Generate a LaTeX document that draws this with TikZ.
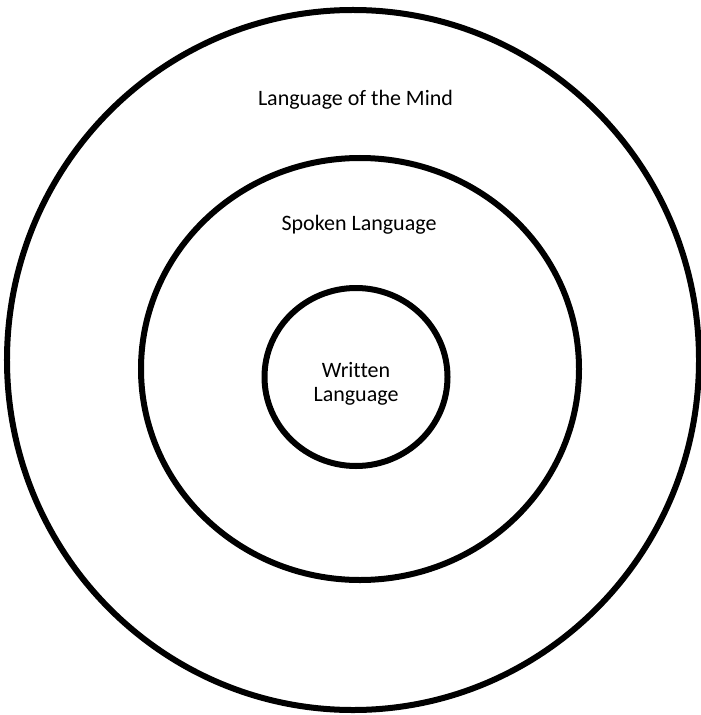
\documentclass[tikz,border=0pt]{standalone}
\usepackage{fontspec}
\setmainfont{Carlito}[Ligatures=NoCommon]
\usetikzlibrary{shapes.geometric}
\begin{document}
\begin{tikzpicture}[x=1bp,y=-1bp,
  ring/.style={draw=black,line width=6bp,ellipse,inner sep=0pt,outer sep=0pt},
  lbl/.style={font=\fontsize{22bp}{23.3bp}\selectfont,inner sep=0pt,align=center}]
\useasboundingbox (0,0) rectangle (701,715);
\node[ring,minimum width=692bp,minimum height=700bp] (outer) at (353,360) {};
\node[ring,minimum width=438bp,minimum height=422bp] (middle) at (360,369) {};
\node[ring,minimum width=183bp,minimum height=178bp] (inner) at (356,377) {};
\node[lbl,anchor=base] (mind) at (355.5,105.7) {Language of the Mind};
\node[lbl,anchor=base] (spoken) at (359,230.7) {Spoken Language};
\node[lbl,anchor=base] (written1) at (356,377.7) {Written};
\node[lbl,anchor=base] (written2) at (356,401) {Language};
\end{tikzpicture}
\end{document}
